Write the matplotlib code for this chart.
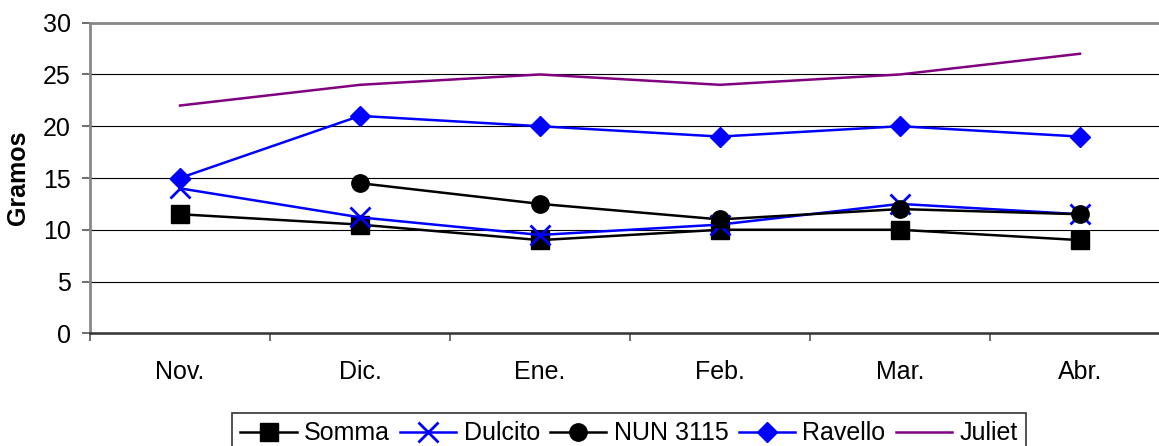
import numpy as np
import matplotlib
matplotlib.use("Agg")
import matplotlib.pyplot as plt

plt.rcParams["font.family"] = ["Liberation Sans", "DejaVu Sans"]

months = ["Nov.", "Dic.", "Ene.", "Feb.", "Mar.", "Abr."]

somma = [11.5, 10.5, 9.0, 10.0, 10.0, 9.0]
dulcito = [14.0, 11.2, 9.5, 10.5, 12.5, 11.5]
nun_3115 = [np.nan, 14.5, 12.5, 11.0, 12.0, 11.5]
ravello = [15.0, 21.0, 20.0, 19.0, 20.0, 19.0]
juliet = [22.0, 24.0, 25.0, 24.0, 25.0, 27.0]

W, H = 1159, 446
FS = 18
fig = plt.figure(figsize=(W / 100, H / 100), dpi=100)
ax = fig.add_axes([90 / W, 1 - 333.3 / H, 1080 / W, (333.3 - 22.7) / H])

x = np.arange(len(months))

ax.plot(x, somma, color="black", lw=1.8, marker="s", ms=13, label="Somma")
ax.plot(x, dulcito, color="#0000ff", lw=1.8, marker="x", ms=14, mew=2, label="Dulcito")
ax.plot(x, nun_3115, color="black", lw=1.8, marker="o", ms=12.5, label="NUN 3115")
ax.plot(x, ravello, color="#0000ff", lw=1.8, marker="D", ms=10.5, label="Ravello")
ax.plot(x, juliet, color="#800080", lw=1.8, label="Juliet")

ax.set_xlim(-0.5, len(months) - 0.5)
ax.set_ylim(0, 30)
ax.set_yticks(range(0, 31, 5))

# gridlines on the major y ticks, under the series
for yv in range(5, 30, 5):
    ax.axhline(yv, color="black", lw=0.8, zorder=0)

# month labels centred in each category, ticks on the boundaries
ax.set_xticks(x)
ax.set_xticklabels(months)
ax.set_xticks(np.arange(-0.5, len(months), 1.0), minor=True)
ax.tick_params(axis="x", which="major", length=0, pad=19, labelsize=FS)
ax.tick_params(axis="x", which="minor", length=6, width=1.2, color="#555555")
ax.tick_params(axis="y", length=6, width=1.2, color="#555555", labelsize=FS, pad=8)

for side in ["left", "top"]:
    ax.spines[side].set_color("#888888")
    ax.spines[side].set_linewidth(2)
ax.spines["bottom"].set_color("#333333")
ax.spines["bottom"].set_linewidth(1.8)
ax.spines["right"].set_visible(False)

ax.set_ylabel("Gramos", fontsize=FS, fontweight="bold", labelpad=9)

leg = fig.legend(loc="upper center", bbox_to_anchor=(629 / W, 1 - 412.7 / H), ncol=5,
                 fontsize=FS, frameon=True, fancybox=False, handlelength=2.25,
                 handletextpad=0.3, columnspacing=0.4, borderpad=0.35,
                 borderaxespad=0)
leg.get_frame().set_edgecolor("black")
leg.get_frame().set_linewidth(1.2)

fig.savefig("out.png", dpi=100)
